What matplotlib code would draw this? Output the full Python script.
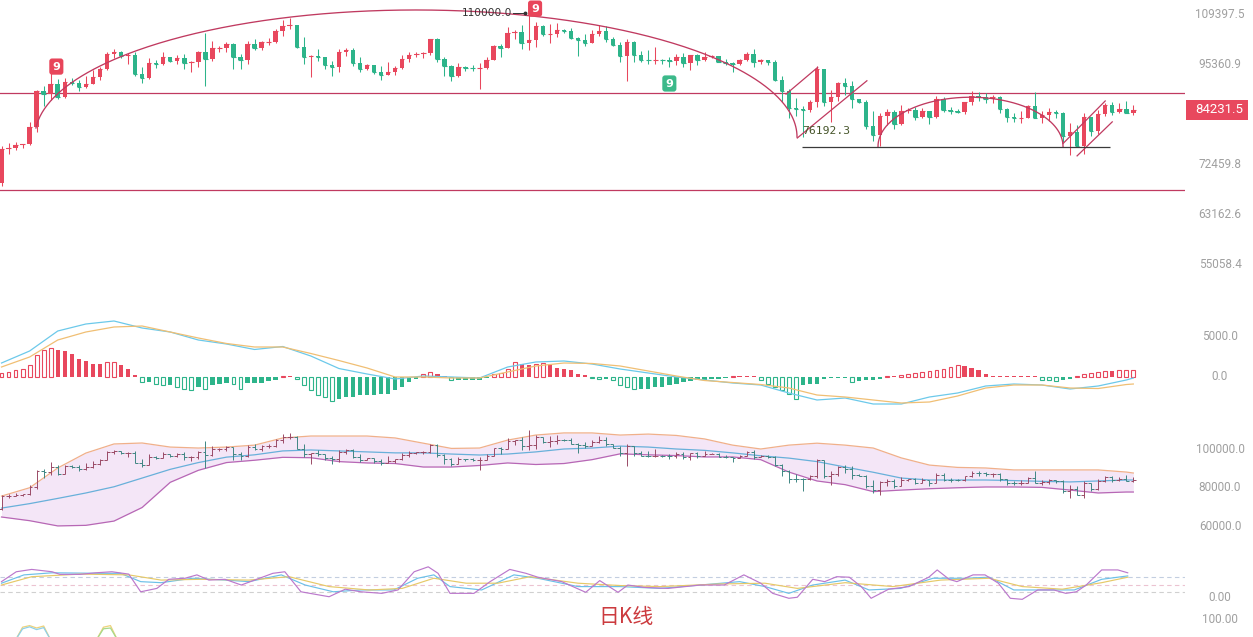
import numpy as np
import matplotlib
matplotlib.use("Agg")
import matplotlib.pyplot as plt
from matplotlib import transforms
from matplotlib.patches import Rectangle

W, H = 1253, 637

# daily candles, one per day, index 0 = first visible day
opens = [69000, 75600, 75900, 76500, 76700, 80400, 88700, 87900, 90500, 87300,
         91000, 90600, 89800, 90500, 92300, 94300, 98300, 98900, 97700, 97900,
         93000, 91900, 95900, 95600, 97400, 96400, 97200, 95800, 96000, 98700,
         97000, 99800, 99900, 101100, 97300, 96600, 101100, 100000, 101400, 101400,
         104500, 106100, 106300, 100200, 97500, 97800, 97300, 95200, 94900, 98700,
         99400, 95800, 94200, 95200, 93600, 92800, 93600, 94600, 97000, 98100,
         98200, 98400, 102300, 96900, 95000, 92500, 94700, 94600, 94500, 94500,
         96500, 100500, 99900, 104100, 104400, 101300, 102000, 106100, 103700, 103900,
         104800, 104700, 102700, 102100, 101300, 103700, 104700, 102400, 100600, 97700,
         101400, 97900, 96600, 96500, 96600, 96500, 96400, 97400, 95800, 97900,
         96600, 97500, 97600, 96100, 95800, 95500, 96600, 98300, 96100, 96600,
         96100, 91500, 88700, 84700, 84400, 84300, 86000, 94300, 86100, 87200,
         90600, 89900, 86700, 86200, 80700, 78600, 82900, 83700, 81100, 83900,
         84300, 82600, 84000, 82700, 86800, 84200, 84100, 83800, 86100, 87500,
         87400, 86900, 87200, 84400, 82600, 82400, 82500, 85200, 82500, 83100,
         83800, 83500, 78400, 79200, 76300, 82600, 79600, 83400, 85300, 83800,
         84500, 83600]
highs = [76400, 76900, 77200, 76800, 81500, 89000, 89900, 93300, 91800, 91900,
         91900, 91500, 92600, 94000, 94900, 98900, 99600, 99000, 98500, 98900,
         94900, 97200, 96600, 98700, 97500, 97900, 98200, 96300, 99000, 104000,
         101800, 100500, 101400, 101200, 98300, 101900, 102500, 101900, 102600, 105200,
         107800, 108400, 106500, 102800, 98000, 99500, 97500, 96400, 99500, 99900,
         99900, 97500, 95500, 95200, 95000, 96200, 95000, 98000, 98900, 98700,
         98800, 102500, 102700, 97300, 95400, 95800, 95000, 95400, 95900, 97400,
         100700, 100900, 105900, 104900, 106300, 110000, 107200, 106400, 106800, 107100,
         105300, 105500, 103000, 103800, 104800, 106500, 106000, 102800, 101500, 102500,
         101700, 99000, 99200, 100100, 96800, 97300, 98300, 98500, 98100, 98200,
         98800, 97900, 97700, 97000, 96000, 96900, 98800, 99500, 96900, 96700,
         96500, 92500, 89300, 87000, 85100, 86500, 95000, 94400, 88900, 91000,
         92000, 91300, 86900, 86500, 83900, 83600, 84400, 84300, 85300, 84700,
         85000, 84800, 84100, 87500, 87400, 84900, 84500, 86100, 88800, 88500,
         88300, 87800, 87500, 84600, 83500, 83900, 85500, 88500, 83900, 84700,
         84200, 83800, 81200, 80900, 83500, 82700, 84300, 85900, 86100, 85800,
         86400, 85500]
lows = [68400, 74700, 75500, 75800, 76500, 79300, 85100, 86600, 86700, 87000,
        90100, 88800, 89400, 90400, 91500, 94100, 97200, 97200, 95700, 92600,
        90800, 91800, 94600, 95300, 96100, 95700, 94300, 93600, 94700, 90000,
        96400, 98800, 98800, 94200, 94300, 95700, 99300, 99200, 100600, 101200,
        103300, 105300, 100000, 95700, 92200, 96400, 94200, 92400, 93400, 97600,
        95100, 93500, 94100, 93000, 91500, 92700, 92700, 94200, 96000, 97500,
        97200, 97900, 96100, 92500, 91200, 92200, 93800, 93700, 89300, 94300,
        96500, 97300, 99900, 102300, 99500, 99400, 100100, 103300, 101200, 102800,
        104100, 102500, 97800, 100300, 101300, 103300, 101500, 100300, 96200, 91200,
        96200, 96200, 95700, 95700, 95700, 94700, 95300, 94900, 94100, 95200,
        96300, 97200, 96000, 95200, 93400, 95200, 96400, 94800, 95700, 95200,
        91300, 86000, 82300, 82800, 78200, 83800, 85000, 85100, 81400, 86300,
        87800, 84700, 85900, 80000, 77400, 76200, 80800, 79900, 80800, 83600,
        82000, 82400, 81100, 82300, 83700, 83200, 83600, 83300, 85500, 86300,
        85900, 85800, 83600, 81600, 81600, 81300, 82400, 82300, 81200, 81700,
        82400, 77200, 74500, 76200, 74600, 78500, 78900, 82800, 83000, 83600,
        83600, 83100]
closes = [75600, 75900, 76500, 76700, 80400, 88700, 87900, 90500, 87300, 91000,
          90600, 89800, 90500, 92300, 94300, 98300, 98900, 97700, 97900, 93000,
          91900, 95900, 95600, 97400, 96400, 97200, 95800, 96000, 98700, 97000,
          99800, 99900, 101100, 97300, 96600, 101100, 100000, 101400, 101400, 104500,
          106100, 106300, 100200, 97500, 97800, 97300, 95200, 94900, 98700, 99400,
          95800, 94200, 95200, 93600, 92800, 93600, 94600, 97000, 98100, 98200,
          98400, 102300, 96900, 95000, 92500, 94700, 94600, 94500, 94500, 96500,
          100500, 99900, 104100, 104400, 101300, 102000, 106100, 103700, 103900, 104800,
          104700, 102700, 102100, 101300, 103700, 104700, 102400, 100600, 97700, 101400,
          97900, 96600, 96500, 96600, 96500, 96400, 97400, 95800, 97900, 96600,
          97500, 97600, 96100, 95800, 95500, 96600, 98300, 96100, 96600, 96100,
          91500, 88700, 84700, 84400, 84300, 86000, 94300, 86100, 87200, 90600,
          89900, 86700, 86200, 80700, 78600, 82900, 83700, 81100, 83900, 84300,
          82600, 84000, 82700, 86800, 84200, 84100, 83800, 86100, 87500, 87400,
          86900, 87200, 84400, 82600, 82400, 82500, 85200, 82500, 83100, 83800,
          83500, 78400, 79200, 76300, 82600, 79600, 83400, 85300, 83800, 84500,
          83600, 84231.5]

# MACD histogram, one bar per day
macd_hist = [500, 630, 830, 1040, 1460, 2700, 3340, 3670, 3340, 3250,
             2920, 2290, 2000, 1670, 1580, 1880, 1900, 1460, 1040, 200,
             -630, -630, -840, -1050, -1050, -1260, -1470, -1600, -1260, -1470,
             -1050, -840, -760, -840, -1470, -760, -760, -760, -500, -340,
             80, 80, -210, -1050, -1680, -2310, -2520, -2940, -2730, -2520,
             -2520, -2310, -2310, -2310, -2100, -2100, -1680, -1260, -630, -210,
             340, 630, 420, 130, -340, -340, -340, -340, -340, -130,
             340, 500, 1050, 1890, 1680, 1470, 1680, 1760, 1470, 1180,
             1050, 840, 420, 210, -130, -210, -210, -340, -1050, -1260,
             -1470, -1470, -1470, -1260, -1260, -1050, -840, -630, -500, -420,
             -340, -210, -210, -130, 130, 130, 130, 130, -420, -840,
             -1260, -1680, -2100, -2730, -1050, -840, -840, -210, -130, -130,
             -130, -630, -500, -420, -340, -210, 130, 130, 210, 340,
             500, 630, 760, 840, 1050, 1260, 1470, 1390, 1180, 840,
             340, 130, 130, 130, 130, 130, 130, 130, -340, -420,
             -500, -420, -210, 130, 340, 500, 630, 760, 760, 840,
             880, 920]

# indicator lines read every 4th day
ind_idx = list(range(0, 161, 4)) + [161]
dif = [1750, 3250, 5750, 6625, 7000, 6125, 5625, 4625, 4125, 3440,
       3810, 2625, 1060, 375, -250, 125, 0, -125, 1250, 1875,
       2000, 1625, 1000, 500, 0, -375, -750, -1000, -2000, -2875,
       -2625, -3375, -3375, -2500, -2000, -1125, -875, -1000, -1500, -1125,
       -375, -125]
dea = [1250, 2500, 4625, 5625, 6250, 6375, 5625, 4875, 4190, 3750,
       3750, 2940, 2060, 1125, 0, 0, -125, -125, 625, 1375,
       1750, 1690, 1375, 750, 125, -440, -690, -940, -1375, -2250,
       -2500, -2875, -3250, -3125, -2375, -1375, -1000, -1000, -1375, -1440,
       -940, -875]
boll_upper = [75.7, 80.0, 90.2, 97.9, 102.6, 103.1, 101.0, 100.5, 101.0, 102.0,
              105.7, 106.7, 106.7, 106.7, 105.7, 103.0, 100.3, 100.5, 104.6, 107.2,
              108.3, 108.3, 107.2, 107.7, 107.0, 105.2, 102.0, 100.0, 102.0, 103.0,
              102.0, 100.5, 95.4, 91.7, 90.5, 90.2, 89.2, 89.2, 89.2, 89.2,
              88.1, 87.6]
boll_mid = [69.5, 71.8, 74.5, 77.3, 80.5, 85.0, 89.5, 93.0, 95.8, 97.0,
            99.0, 99.5, 99.0, 98.5, 98.0, 98.0, 97.4, 96.9, 97.4, 98.5,
            100.0, 100.5, 101.5, 101.0, 100.0, 99.3, 98.0, 96.5, 95.3, 93.5,
            90.7, 88.0, 85.0, 84.0, 84.0, 84.0, 83.7, 83.3, 83.0, 83.5,
            84.0, 84.0]
boll_lower = [64.9, 63.0, 60.3, 60.6, 62.8, 69.8, 82.8, 89.0, 93.0, 94.2,
              95.7, 95.5, 93.5, 92.8, 92.5, 90.7, 90.7, 91.5, 92.8, 92.0,
              92.5, 94.5, 97.5, 97.0, 96.6, 95.9, 95.9, 94.5, 88.1, 83.5,
              81.6, 78.0, 78.8, 79.5, 80.0, 80.4, 80.4, 80.2, 78.8, 77.3,
              77.8, 77.8]

# KDJ, read at the turning points of each line
k_idx = [0, 3.2, 7.2, 14.0, 16.9, 19.8, 22.7, 27.2, 31.8, 35.2, 39.8, 43.2, 47.2, 51.1,
         55.8, 59.2, 61.5, 63.8, 68.3, 72.9, 76.3, 82.0, 86.6, 88.0, 93.7, 99.4, 105.0,
         108.6, 112.0, 115.4, 120.0, 123.4, 127.9, 132.5, 137.1, 140.5, 144.0, 148.6,
         152.6, 156.5, 160.2]
k_vals = [55, 87, 95, 93, 93, 61, 57, 74, 67, 61, 87, 48, 22, 29, 29, 74, 87, 42, 29, 87,
          74, 42, 42, 42, 35, 48, 61, 42, 16, 48, 67, 29, 35, 74, 74, 78, 29, 29, 29, 70, 83]
d_idx = [0, 4.3, 11.2, 18.1, 22.7, 28.4, 35.2, 40.9, 46.6, 52.3, 57.0, 61.5, 66.1, 70.6,
         75.2, 82.0, 88.0, 93.7, 102.2, 108.6, 113.2, 120.0, 126.8, 133.6, 140.5, 145.2,
         150.9, 156.5, 160.2]
d_vals = [48, 80, 90, 87, 67, 70, 67, 80, 42, 29, 35, 74, 55, 55, 80, 55, 46, 42, 52, 55,
          35, 57, 42, 67, 74, 42, 32, 57, 78]
j_idx = [0, 2.1, 4.3, 7.2, 8.3, 11.2, 13.4, 15.7, 18.1, 19.8, 22.1, 23.8, 26.1, 27.8,
         29.5, 31.8, 34.1, 36.3, 38.6, 40.3, 42.6, 46.6, 48.9, 51.1, 54.1, 56.4, 58.7,
         60.7, 62.1, 63.8, 67.2, 69.5, 72.3, 74.6, 76.3, 79.7, 83.1, 85.1, 87.7, 89.1,
         91.4, 94.8, 99.4, 102.8, 105.6, 108.0, 109.7, 112.0, 113.2, 115.4, 117.1, 118.8,
         120.6, 122.3, 123.7, 126.2, 129.1, 131.9, 133.1, 134.8, 135.9, 138.2, 139.9,
         141.8, 143.5, 145.2, 147.4, 149.7, 151.4, 152.9, 154.3, 156.5, 158.8, 160.2]
j_vals = [61, 99, 108, 99, 89, 89, 95, 99, 90, 22, 35, 70, 74, 87, 67, 70, 48, 70, 93, 99,
          22, 3, 32, 22, 16, 29, 99, 118, 93, 16, 16, 61, 108, 93, 78, 61, 20, 65, 20, 48,
          39, 35, 48, 48, 87, 55, 16, -3, 1, 70, 61, 80, 78, 42, -3, 32, 42, 78, 106, 70,
          61, 87, 87, 55, -3, -7, 29, 29, 16, 22, 48, 106, 106, 95]

# top of the next (cut off) panel
frag_idx_a = [2.0, 3.0, 4.0, 5.0, 6.0, 7.0]
frag_a1 = [50, 82, 86, 80, 85, 50]
frag_a2 = [50, 78, 83, 76, 81, 50]
frag_idx_b = [13.5, 14.5, 15.5, 16.5]
frag_b1 = [50, 82, 86, 50]
frag_b2 = [50, 78, 80, 50]

main_ticks = [109397.5, 95360.9, 72459.8, 63162.6, 55058.4]
macd_ticks = [5000.0, 0.0]
boll_ticks = [100000.0, 80000.0, 60000.0]

# drawn objects (support / resistance, arcs, channels)
resist_line = 88258
support_line = 67620
low_mark = 76192.3
high_mark = 110000.0

UP = "#e8475d"
DOWN = "#2db48a"
DRAW = "#c03a60"
LABEL = "#a0a0a0"

# pixel layout: 7.03 px per day, first day at x = 1.5
XL = (-1.5 / 7.03, (1185 - 1.5) / 7.03)
K_LOG = 0.00274644  # ln(price) per pixel on main panel


def px_axes(fig, top, bottom, right=1185):
    return fig.add_axes([0, 1 - bottom / H, right / W, (bottom - top) / H])


fig = plt.figure(figsize=(W / 100, H / 100), dpi=100)
fig.patch.set_facecolor("white")

x = np.arange(len(closes))
o = np.array(opens, float)
h = np.array(highs, float)
l = np.array(lows, float)
c = np.array(closes, float)
col = [UP if cc >= oo else DOWN for oo, cc in zip(o, c)]

# ---------------- main panel ----------------
ax = px_axes(fig, 0, 295)
ax.set_yscale("log")
ax.set_xlim(*XL)
ax.set_ylim(84231.5 * np.exp(-(295 - 110) * K_LOG), 84231.5 * np.exp(110 * K_LOG))
ax.axis("off")

ax.vlines(x, l, h, colors=col, lw=0.75, zorder=2)
ax.bar(x, np.abs(c - o), width=0.64, bottom=np.minimum(o, c), color=col, lw=0, zorder=3)
ax.hlines(c, x - 0.32, x + 0.32, colors=col, lw=0.8, zorder=3)

ax.axhline(resist_line, color=DRAW, lw=0.9, zorder=1)
ax.axhline(support_line, color=DRAW, lw=0.9, zorder=1)

# big arc from the Nov rally to the Feb low
t = np.linspace(0, np.pi - 0.071, 300)
lb, lt = np.log(78210), np.log(110860)
ax.plot(58.96 + 54.2 * np.cos(t), np.exp(lb + (lt - lb) * np.sin(t)), color=DRAW, lw=0.95, zorder=4)
# small arc over March
t = np.linspace(0, np.pi, 200)
lb, lt = np.log(low_mark), np.log(87240)
ax.plot(137.84 + 13.16 * np.cos(t), np.exp(lb + (lt - lb) * np.sin(t)), color=DRAW, lw=0.95, zorder=4)

# channels
ax.plot([113.2, 123.1], [78000, 91270], color=DRAW, lw=0.9, zorder=4)
ax.plot([111.6, 116.1], [87990, 94700], color=DRAW, lw=0.9, zorder=4)
ax.plot([151.0, 157.0], [76820, 86350], color=DRAW, lw=0.9, zorder=4)
ax.plot([153.0, 158.0], [74260, 81530], color=DRAW, lw=0.9, zorder=4)

ax.hlines(low_mark, 113.9, 157.7, color="#3a3a3a", lw=0.9, zorder=4)
ax.text(113.9, 79540, f"{low_mark:.1f}", family="DejaVu Sans Mono", fontsize=8.2,
        color="#46552a", ha="left", va="center", zorder=5)
ax.text(72.6, high_mark, f"{high_mark:.1f}", fontsize=7.6, color="#333333",
        ha="right", va="center", zorder=5)
ax.plot([72.8, 74.6], [high_mark, high_mark], color="#333333", lw=0.7, zorder=5)
ax.plot([74.4], [high_mark], marker="o", ms=1.8, color="#333333", zorder=5)

for xi, yi, fc in [(7.8, 94900, "#e8455a"), (75.9, 111280, "#e8455a"), (95.0, 90590, "#3cb98a")]:
    ax.text(xi, yi, "9", color="white", fontsize=8, fontweight="bold", ha="center", va="center",
            zorder=6, bbox=dict(boxstyle="round,pad=0.28,rounding_size=0.25", fc=fc, ec="none"))


def right_labels(a, vals, fmt):
    tr = transforms.blended_transform_factory(fig.transFigure, a.transData)
    for v in vals:
        a.text(1220 / W, v, fmt.format(v), transform=tr, ha="center", va="center",
               color=LABEL, fontsize=8.5, family="Roboto", clip_on=False)


right_labels(ax, main_ticks, "{:.1f}")

# last price tag
yd = ax.transData.transform((0, c[-1]))[1]
fig.add_artist(Rectangle((1186 / W, (yd - 10) / H), 62 / W, 20 / H, transform=fig.transFigure,
                         fc="#e8485e", ec="none"))
fig.text(1219 / W, yd / H, f"{c[-1]:.1f}", color="white", fontsize=9.5, family="Roboto",
         ha="center", va="center")

# ---------------- MACD ----------------
axm = px_axes(fig, 310, 410)
axm.set_xlim(*XL)
axm.set_ylim(-4125, 8375)
axm.axis("off")
hist = np.array(macd_hist, float)
prev = np.concatenate([[0], hist[:-1]])
hollow = np.where(hist >= 0, hist > prev, hist < prev)
hcol = np.where(hist >= 0, UP, DOWN)
axm.bar(x[~hollow], hist[~hollow], width=0.62, color=hcol[~hollow], lw=0)
axm.bar(x[hollow], hist[hollow], width=0.55, facecolor="white", edgecolor=hcol[hollow], lw=0.8)
axm.plot(ind_idx, dif, color="#6cc9ea", lw=0.9)
axm.plot(ind_idx, dea, color="#f0bf74", lw=0.9)
right_labels(axm, macd_ticks, "{:.1f}")

# ---------------- Bollinger ----------------
axb = px_axes(fig, 420, 540)
axb.set_xlim(*XL)
axb.set_ylim(53032, 114968)
axb.axis("off")
bu = np.array(boll_upper) * 1000
bm = np.array(boll_mid) * 1000
bl = np.array(boll_lower) * 1000
axb.fill_between(ind_idx, bl, bu, color="#f4e6f7", lw=0)
axb.plot(ind_idx, bu, color="#f0b08a", lw=0.9)
axb.plot(ind_idx, bm, color="#68b0da", lw=0.9)
axb.plot(ind_idx, bl, color="#b767b5", lw=0.9)
bcol = ["#9a4a66" if cc >= oo else "#3f8683" for oo, cc in zip(o, c)]
axb.vlines(x, l, h, colors=bcol, lw=0.7)
axb.hlines(o, x - 0.4, x, colors=bcol, lw=0.7)
axb.hlines(c, x, x + 0.4, colors=bcol, lw=0.7)
right_labels(axb, boll_ticks, "{:.1f}")

# ---------------- KDJ ----------------
axk = px_axes(fig, 560, 605)
axk.set_xlim(*XL)
axk.set_ylim(-28.8, 144.2)
axk.axis("off")
for lvl, lc in [(80, "#c3cee0"), (50, "#ecc3d1"), (20, "#d0d0d0")]:
    axk.axhline(lvl, color=lc, lw=0.8, ls=(0, (4, 3)))
axk.plot(k_idx, k_vals, color="#6cc0e8", lw=0.85)
axk.plot(d_idx, d_vals, color="#e6c968", lw=0.85)
axk.plot(j_idx, j_vals, color="#bb78cc", lw=0.85)
right_labels(axk, [0.0], "{:.2f}")

# next panel, mostly cut off
axf = px_axes(fig, 620, 660)
axf.set_xlim(*XL)
axf.set_ylim(0, 100)
axf.axis("off")
axf.plot(frag_idx_a, frag_a1, color="#eed27a", lw=0.9)
axf.plot(frag_idx_a, frag_a2, color="#8fd0e8", lw=0.9)
axf.plot(frag_idx_b, frag_b1, color="#eed27a", lw=0.9)
axf.plot(frag_idx_b, frag_b2, color="#a6d98a", lw=0.9)
right_labels(axf, [100.0], "{:.2f}")

fig.text(626 / W, 1 - 617 / H, "日K线", fontsize=15, color="#cc3b3f",
         family=["Noto Sans CJK SC", "DejaVu Sans"], ha="center", va="center")

fig.savefig("out.png", dpi=100, facecolor="white")
